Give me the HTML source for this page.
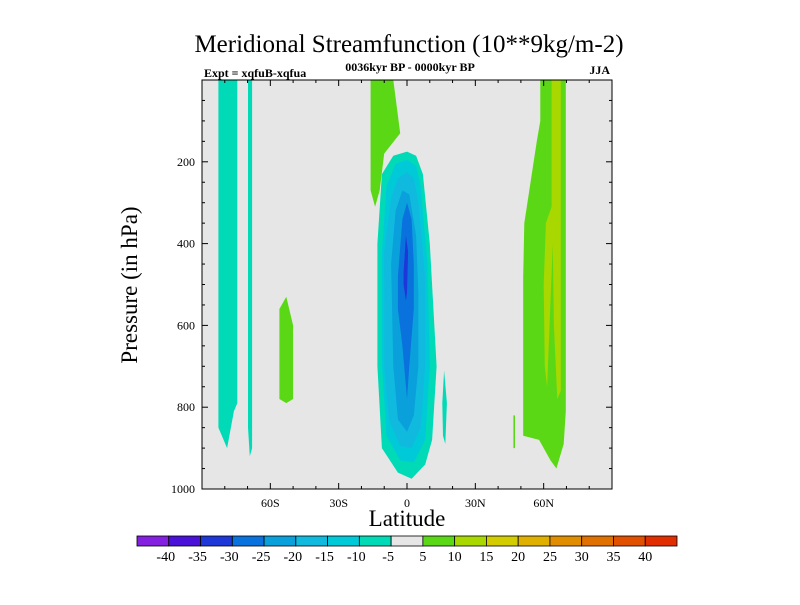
<!DOCTYPE html>
<html><head><meta charset="utf-8"><style>
body{margin:0;background:#fff;}
svg text{font-family:"Liberation Serif",serif;fill:#000;}
</style></head><body>
<svg id="c" width="800" height="600"></svg>
<script>
const xTickLabels=["60S","30S","0","30N","60N"];
const xTickValues=[-60,-30,0,30,60];
const yTickValues=[200,400,600,800,1000];
const levels=[-40,-35,-30,-25,-20,-15,-10,-5,5,10,15,20,25,30,35,40];
const colors=["#8420e0","#4a12d8","#1e38d8","#0a72dc","#0aa0dc","#10bade","#00cad8","#00dab6","#e6e6e6","#5ad816","#a8d800","#d2cc00","#e0b000","#e08e00","#e07000","#e05000","#e02e00"];
// contour regions: [colorIndex, [[lat,p],...]]
const regions=[
 [7,[[-82.8,0],[-74.5,0],[-74.5,790],[-76,810],[-79,900],[-82.8,850]]],
 [7,[[-69.8,0],[-68,0],[-68,900],[-69,920],[-69.8,850]]],
 [9,[[-56,560],[-53,530],[-50,600],[-50,780],[-53,790],[-56,780]]],
 [9,[[-16,0],[-6,0],[-3,130],[-10,180],[-12,270],[-14,310],[-16,270]]],
 [7,[[-13,400],[-11,230],[-6,185],[0,175],[4,185],[7,230],[10,400],[13,700],[11,880],[8,940],[2,975],[-4,960],[-11,900],[-13,700]]],
 [6,[[-11,420],[-9,260],[-5,205],[0,195],[4,210],[6,260],[9,450],[10,700],[8,880],[3,935],[-3,930],[-9,870],[-11,700]]],
 [5,[[-10,420],[-7,290],[-4,240],[0,225],[3,240],[5,300],[8,480],[8,700],[6,850],[2,900],[-3,895],[-8,830],[-10,700]]],
 [4,[[-7,450],[-5,320],[-2,270],[1,280],[4,380],[5,520],[5,700],[3,820],[0,860],[-4,830],[-6,700]]],
 [3,[[-4,480],[-2,340],[0,300],[2,340],[3,450],[3,560],[1,700],[0,780],[-2,650],[-4,560]]],
 [2,[[-1.5,470],[-0.5,380],[0.5,420],[0,520],[-0.5,540],[-1.5,500]]],
 [7,[[15.5,790],[16.3,710],[17.5,790],[16.8,890],[15.8,870]]],
 [9,[[58.5,0],[69.7,0],[69.7,810],[68.8,890],[65.6,950],[63,930],[58,880],[51,870],[51,480],[51.5,350],[57,150],[58.5,100]]],
 [10,[[63.5,0],[67.5,0],[67.5,760],[66,780],[64.5,600],[64,400],[61.5,750],[60.5,700],[60,500],[61,350],[63.5,310]]],
 [9,[[46.7,820],[47.4,820],[47.4,900],[46.7,900]]]
];
const X0=202,X1=612,Y0=80,Y1=489;
const xs=lat=>X0+(lat+90)/180*(X1-X0);
const ys=p=>Y0+p/1000*(Y1-Y0);
const svg=document.getElementById('c');
const NS="http://www.w3.org/2000/svg";
function mk(t,a,parent){const e=document.createElementNS(NS,t);for(const k in a)e.setAttribute(k,a[k]);(parent||svg).appendChild(e);return e;}
let bg=mk('rect',{x:X0,y:Y0,width:X1-X0,height:Y1-Y0,fill:'#e6e6e6'});


const clip=mk('clipPath',{id:'pc'});mk('rect',{x:X0,y:Y0,width:X1-X0,height:Y1-Y0},clip);
const g=mk('g',{'clip-path':'url(#pc)'});
regions.forEach((r,i)=>{
 const d=r[1].map((pt,j)=>(j?'L':'M')+xs(pt[0]).toFixed(1)+','+ys(pt[1]).toFixed(1)).join('')+'Z';
 const p=mk('path',{d:d,fill:colors[r[0]]},g);
 
 
});
let fr=mk('rect',{x:X0,y:Y0,width:X1-X0,height:Y1-Y0,fill:'none',stroke:'#000','stroke-width':1});


for(let lat=-90;lat<=90;lat+=10){const major=lat%30===0;const L=major?6:3;
 mk('line',{x1:xs(lat),x2:xs(lat),y1:Y1,y2:Y1-L,stroke:'#000'});mk('line',{x1:xs(lat),x2:xs(lat),y1:Y0,y2:Y0+L,stroke:'#000'});}
xTickValues.forEach((v,i)=>{const t=mk('text',{x:xs(v),y:507,'text-anchor':'middle','font-size':12});t.textContent=xTickLabels[i];
 
 });
for(let p=0;p<=1000;p+=50){const major=p%200===0;const L=major?6:3;
 mk('line',{x1:X0,x2:X0+L,y1:ys(p),y2:ys(p),stroke:'#000'});mk('line',{x1:X1,x2:X1-L,y1:ys(p),y2:ys(p),stroke:'#000'});}
yTickValues.forEach(v=>{const t=mk('text',{x:195,y:ys(v)+4,'text-anchor':'end','font-size':12});t.textContent=v;
 
 });
const CB0=137,CB1=677,CBy=536,CBh=10,bw=(CB1-CB0)/colors.length;
colors.forEach((c,i)=>{const r=mk('rect',{x:CB0+i*bw,y:CBy,width:bw,height:CBh,fill:c,stroke:'#000','stroke-width':0.8});
 
 });
levels.forEach((v,i)=>{const t=mk('text',{x:CB0+(i+1)*bw+(v<0?-3:0),y:561,'text-anchor':'middle','font-size':14});t.textContent=v;
 
 });
</script>
<svg width="800" height="600" style="position:absolute;left:0;top:0">
<text x="409" y="52" text-anchor="middle" font-size="25">Meridional Streamfunction (10**9kg/m-2)</text>
<text x="204" y="77" font-size="12" font-weight="bold">Expt = xqfuB-xqfua</text>
<text x="410" y="71" text-anchor="middle" font-size="12" font-weight="bold">0036kyr BP - 0000kyr BP</text>
<text x="610" y="74" text-anchor="end" font-size="12" font-weight="bold">JJA</text>
<text x="407" y="526" text-anchor="middle" font-size="23">Latitude</text>
<text transform="translate(137,285) rotate(-90)" text-anchor="middle" font-size="23">Pressure (in hPa)</text>
</svg>
</body></html>
